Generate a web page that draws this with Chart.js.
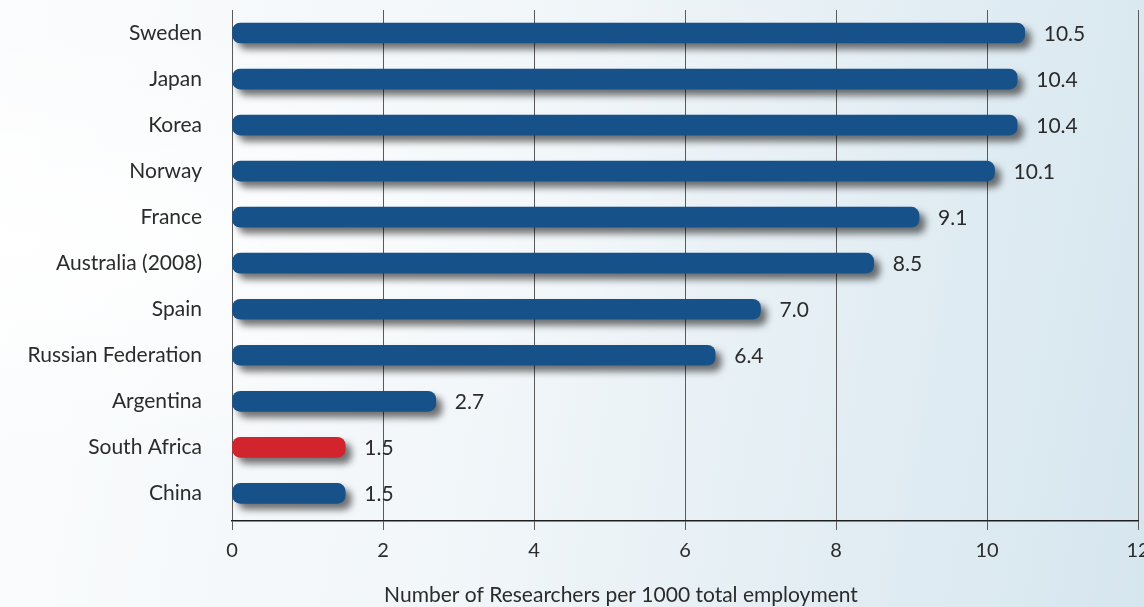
<!DOCTYPE html>
<html lang="en">
<head>
    <meta charset="UTF-8">
    <title>Researchers per 1000 total employment</title>
    <script src="https://cdn.jsdelivr.net/npm/chart.js"></script>
    <style>
        html, body { margin: 0; padding: 0; }
        body {
            width: 1144px; height: 607px; overflow: hidden;
            background:
                radial-gradient(ellipse at 0% 40%, rgba(255,255,255,0.95) 0%, rgba(255,255,255,0) 45%),
                linear-gradient(100deg, #fbfcfd 0%, #f1f6f9 45%, #e2edf3 75%, #d6e6ef 100%);
        }
        canvas { display: block; }
    </style>
</head>
<body>
<canvas id="researchChart" width="1144" height="607"></canvas>
<script>
    const countries = ['Sweden', 'Japan', 'Korea', 'Norway', 'France', 'Australia (2008)',
        'Spain', 'Russian Federation', 'Argentina', 'South Africa', 'China'];
    const researchers = [10.5, 10.4, 10.4, 10.1, 9.1, 8.5, 7.0, 6.4, 2.7, 1.5, 1.5];
    const highlight = 'South Africa';
    const xTicks = [0, 2, 4, 6, 8, 10, 12];
    const xTitle = 'Number of Researchers per 1000 total employment';

    const blue = '#16518a';
    const red = '#d1242c';
    const textColor = '#2b2b2b';
    const labelFont = 'Lato, "Open Sans", sans-serif';

    // soft drop shadow under the bars
    const barShadow = {
        id: 'barShadow',
        beforeDatasetsDraw(chart) {
            const c = chart.ctx;
            c.save();
            c.shadowColor = 'rgba(0,0,0,0.55)';
            c.shadowBlur = 7;
            c.shadowOffsetX = 6;
            c.shadowOffsetY = 6;
        },
        afterDatasetsDraw(chart) {
            chart.ctx.restore();
        }
    };

    // value written just past the end of each bar, plus the axis caption
    const valueLabels = {
        id: 'valueLabels',
        afterDatasetsDraw(chart) {
            const c = chart.ctx;
            const meta = chart.getDatasetMeta(0);
            c.save();
            c.fillStyle = textColor;
            c.font = '21px ' + labelFont;
            c.textAlign = 'left';
            c.textBaseline = 'middle';
            meta.data.forEach((bar, i) => {
                c.fillText(researchers[i].toFixed(1), bar.x + 19, bar.y + 1);
            });
            c.font = '21px ' + labelFont;
            c.textAlign = 'center';
            c.fillText(xTitle, 621, 595);
            c.restore();
        }
    };

    const ctx = document.getElementById('researchChart').getContext('2d');
    new Chart(ctx, {
        type: 'bar',
        data: {
            datasets: [{
                data: researchers.map((v, i) => ({ x: v, y: i })),
                backgroundColor: countries.map(c => c === highlight ? red : blue),
                borderRadius: 8,
                borderSkipped: false,
                barThickness: 20
            }]
        },
        options: {
            indexAxis: 'y',
            responsive: false,
            animation: false,
            layout: { padding: { top: 10, right: 0, left: 0, bottom: 0 } },
            plugins: { legend: { display: false }, tooltip: { enabled: false } },
            scales: {
                x: {
                    type: 'linear',
                    min: 0,
                    max: 12,
                    afterBuildTicks: scale => { scale.ticks = xTicks.map(v => ({ value: v })); },
                    afterFit: scale => { scale.height = 86; scale.paddingRight = 6; },
                    grid: { color: '#5a5a5a', lineWidth: 1, tickLength: 9, drawTicks: true },
                    border: { color: '#1e1e1e', width: 1.5 },
                    ticks: {
                        color: textColor,
                        padding: 9,
                        font: { family: labelFont, size: 20 }
                    }
                },
                y: {
                    type: 'linear',
                    reverse: true,
                    offset: false,
                    bounds: 'data',
                    min: -0.5,
                    max: 10.6,
                    afterBuildTicks: scale => { scale.ticks = countries.map((c, i) => ({ value: i })); },
                    afterFit: scale => { scale.width = 232; scale.paddingTop = 0; scale.paddingBottom = 0; },
                    grid: { display: false, drawTicks: false },
                    border: { display: false },
                    ticks: {
                        autoSkip: false,
                        color: textColor,
                        padding: 30,
                        font: { family: labelFont, size: 21 },
                        callback: v => countries[v] || ''
                    }
                }
            }
        },
        plugins: [barShadow, valueLabels]
    });
</script>
</body>
</html>
